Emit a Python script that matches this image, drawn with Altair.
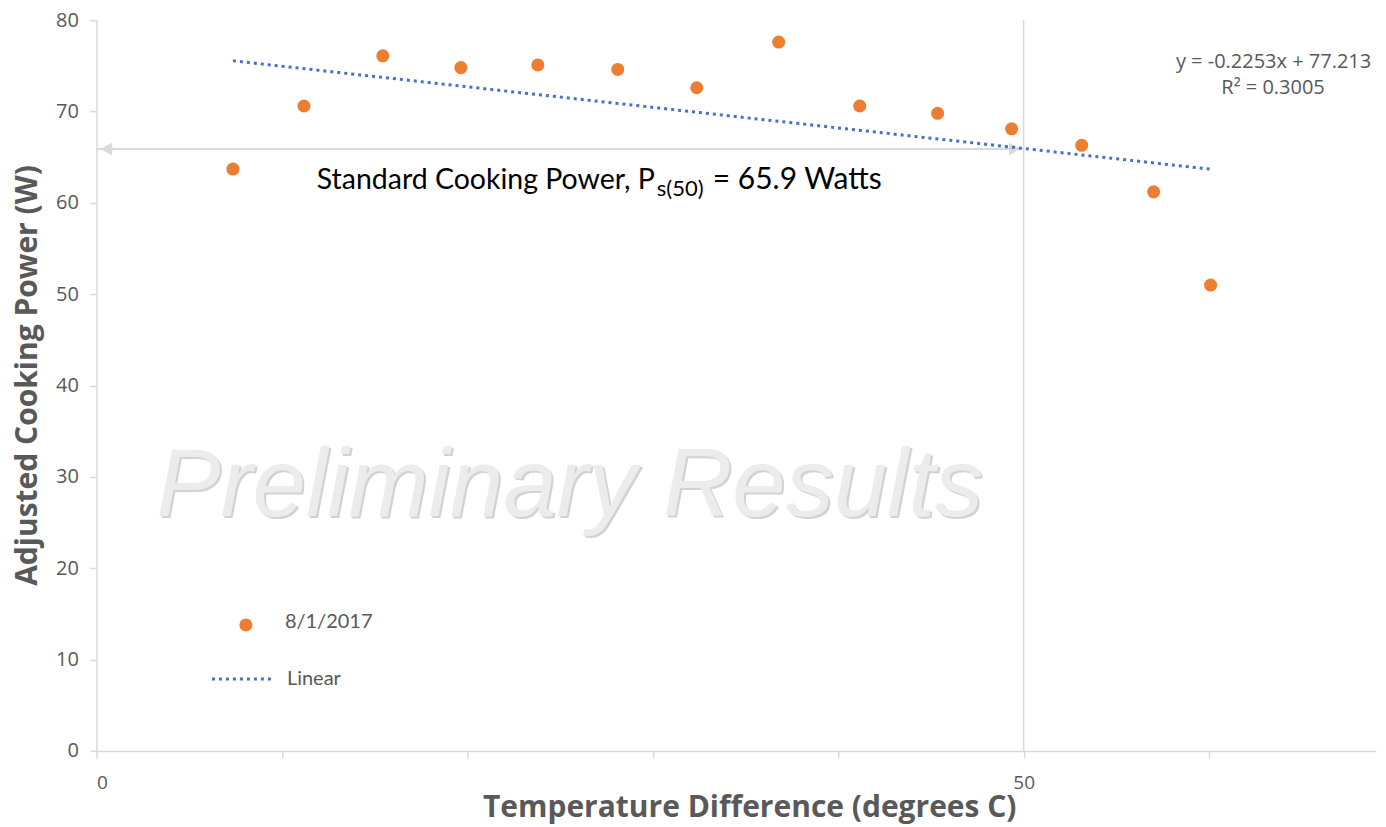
import altair as alt
import pandas as pd

# ---- data ----
temp_diff = [7.36, 11.19, 15.44, 19.65, 23.80, 28.11, 32.37, 36.79, 41.16, 45.36, 49.35, 53.13, 57.01, 60.08]
power = [63.7, 70.6, 76.1, 74.8, 75.1, 74.6, 72.6, 77.6, 70.6, 69.8, 68.1, 66.3, 61.2, 51.0]
trend_x = [7.36, 60.08]
trend_y = [75.55, 63.68]
std_temp = [50]
arrow_x = [0, 50]
std_power = 65.9
x_ticks = [0, 10, 20, 30, 40, 50, 60]
x_tick_labels = ["0", "", "", "", "", "50", ""]
y_ticks = [0, 10, 20, 30, 40, 50, 60, 70, 80]
series_label = "8/1/2017"
trend_label = "Linear"
equation = "y = -0.2253x + 77.213"
r_squared = "R² = 0.3005"
annot_main = "Standard Cooking Power, P"
annot_sub = "s(50)"
annot_tail = "= 65.9 Watts"
watermark = "Preliminary Results"
x_title = "Temperature Difference (degrees C)"
y_title = "Adjusted Cooking Power (W)"

W, H = 1280, 731
ORANGE = "#ED7D31"
BLUE = "#4472C4"
AXIS_GRAY = "#d9d9d9"
TEXT_GRAY = "#595959"

label_expr = " : ".join(
    f"datum.value == {v} ? '{l}'" for v, l in zip(x_ticks, x_tick_labels)
) + " : ''"

xs = alt.Scale(domain=[0, 69], nice=False, zero=False)
ys = alt.Scale(domain=[0, 80], nice=False, zero=False)

x_axis = alt.Axis(
    values=x_ticks, labelExpr=label_expr, grid=False,
    domainColor=AXIS_GRAY, domainWidth=1.5, tickColor=AXIS_GRAY, tickWidth=1.5, tickSize=7,
    labelFont="Open Sans", labelFontSize=19, labelColor=TEXT_GRAY, labelPadding=16,
    title=x_title, titleFont="Open Sans", titleFontSize=30, titleFontWeight="bold",
    titleColor=TEXT_GRAY, titleX=653, titleY=66, titleBaseline="alphabetic", titleAlign="center",
)
y_axis = alt.Axis(
    values=y_ticks, grid=False,
    domainColor=AXIS_GRAY, domainWidth=1.5, tickColor=AXIS_GRAY, tickWidth=1.5, tickSize=7,
    labelFont="Open Sans", labelFontSize=20, labelColor=TEXT_GRAY, labelPadding=11,
    title=y_title, titleFont="Open Sans", titleFontSize=30, titleFontWeight="bold",
    titleColor=TEXT_GRAY, titleX=-60, titleY=355, titleBaseline="alphabetic", titleAlign="center",
    titleAngle=270,
)

X = alt.X("x:Q", scale=xs, axis=x_axis)
Y = alt.Y("y:Q", scale=ys, axis=y_axis)

pts_df = pd.DataFrame({"x": temp_diff, "y": power})
trend_df = pd.DataFrame({"x": trend_x, "y": trend_y})
vline_df = pd.DataFrame({"x": std_temp})
arrow_df = pd.DataFrame({"x": arrow_x, "y": [std_power] * len(arrow_x)})
arrow_l = pd.DataFrame({"x": [arrow_x[0]], "y": [std_power]})
arrow_r = pd.DataFrame({"x": [arrow_x[1]], "y": [std_power]})

vline = alt.Chart(vline_df).mark_rule(color=AXIS_GRAY, strokeWidth=1.5).encode(
    x=X, y=alt.value(0), y2=alt.value(H)
)
arrow_line = alt.Chart(arrow_df).mark_line(color=AXIS_GRAY, strokeWidth=2).encode(x=X, y=Y)
arrow_head_l = alt.Chart(arrow_l).mark_point(
    shape="triangle-left", filled=True, color=AXIS_GRAY, size=170, opacity=1
).encode(x=X, y=Y, xOffset=alt.value(10))
arrow_head_r = alt.Chart(arrow_r).mark_point(
    shape="triangle-right", filled=True, color=AXIS_GRAY, size=170, opacity=1
).encode(x=X, y=Y, xOffset=alt.value(-9))

wm_df = pd.DataFrame({"t": [watermark]})
wm_shadow = alt.Chart(wm_df).mark_text(
    font="Liberation Sans", fontStyle="italic", fontSize=96, align="center", baseline="alphabetic",
    color="#c8c8c8", opacity=0.8,
).encode(x=alt.value(475.5), y=alt.value(498), text="t:N")
wm = alt.Chart(wm_df).mark_text(
    font="Liberation Sans", fontStyle="italic", fontSize=96, align="center", baseline="alphabetic",
    color="#ececec",
).encode(x=alt.value(473.5), y=alt.value(496), text="t:N")

trend = alt.Chart(trend_df).mark_line(
    color=BLUE, strokeWidth=3, strokeDash=[3, 4]
).encode(x=X, y=Y)

points = alt.Chart(pts_df).mark_circle(color=ORANGE, size=170, opacity=1).encode(x=X, y=Y)


def txt(s, x, y, **kw):
    return alt.Chart(pd.DataFrame({"t": [s]})).mark_text(**kw).encode(
        x=alt.value(x), y=alt.value(y), text="t:N"
    )


ann1 = txt(annot_main, 558.5, 169, font="Lato", fontSize=28.5, align="right", baseline="alphabetic", color="black")
ann2 = txt(annot_sub, 560.5, 176, font="Lato", fontSize=22, align="left", baseline="alphabetic", color="black")
ann3 = txt(annot_tail, 616.5, 169, font="Lato", fontSize=30, align="left", baseline="alphabetic", color="black")

eq1 = txt(equation, 1177.5, 42, font="Open Sans", fontSize=20, align="center", baseline="middle", color=TEXT_GRAY)
eq2 = txt(r_squared, 1177, 68, font="Open Sans", fontSize=20, align="center", baseline="middle", color=TEXT_GRAY)

leg_pt = alt.Chart(pd.DataFrame({"t": [series_label]})).mark_circle(
    color=ORANGE, size=170, opacity=1
).encode(x=alt.value(149.5), y=alt.value(605))
leg_pt_lbl = txt(series_label, 188.5, 602, font="Lato", fontSize=20, align="left", baseline="middle", color=TEXT_GRAY)
leg_line = alt.Chart(pd.DataFrame({"t": [trend_label]})).mark_rule(
    color=BLUE, strokeWidth=3, strokeDash=[3, 4]
).encode(x=alt.value(115.5), x2=alt.value(178.5), y=alt.value(659))
leg_line_lbl = txt(trend_label, 190.5, 659, font="Lato", fontSize=20, align="left", baseline="middle", color=TEXT_GRAY)

chart = alt.layer(
    vline, arrow_line, arrow_head_l, arrow_head_r, wm_shadow, wm, trend, points,
    ann1, ann2, ann3, eq1, eq2, leg_pt, leg_pt_lbl, leg_line, leg_line_lbl,
).properties(
    width=W, height=H,
    autosize=alt.AutoSizeParams(type="none"),
    padding={"left": 88.5, "top": 12, "right": 2, "bottom": 74},
    background="white",
).configure_view(stroke=None)

chart.save("out.html", embed_options={"renderer": "svg", "actions": False})
